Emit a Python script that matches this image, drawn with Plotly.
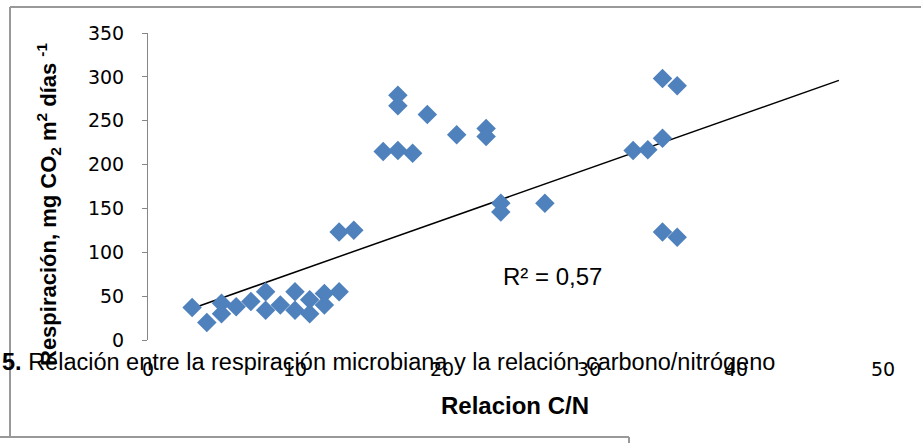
import plotly.graph_objects as go

# Data
cn_ratio = [3, 4, 5, 5, 6, 7, 8, 8, 9, 10, 10, 11, 11, 12, 12, 13, 13, 14,
            16, 17, 17, 17, 18, 19, 21, 23, 23, 24, 24, 27, 33, 34, 35, 35, 36, 35, 36]
respiration = [37, 20, 42, 30, 38, 44, 55, 34, 40, 55, 34, 46, 30, 53, 40, 55, 123, 125,
               215, 216, 279, 267, 213, 257, 234, 241, 232, 156, 146, 156, 216, 217, 230, 298, 290, 123, 117]
trend_x = [3, 47]
trend_y = [36, 296]
r2_label = "R² = 0,57"
x_ticks = [0, 10, 20, 30, 40, 50]
y_ticks = [0, 50, 100, 150, 200, 250, 300, 350]

W, H = 921, 443
L, R, T, B = 148, 38, 33, 103
pw, ph = W - L - R, H - T - B

def px(xp):
    return (xp - L) / pw

def py(yp):
    return (H - B - yp) / ph

fig = go.Figure()
fig.add_trace(go.Scatter(x=trend_x, y=trend_y, mode="lines",
                         line=dict(color="black", width=1.5), showlegend=False, hoverinfo="skip"))
fig.add_trace(go.Scatter(x=cn_ratio, y=respiration, mode="markers",
                         marker=dict(symbol="diamond", size=15, color="#4F81BD",
                                     line=dict(width=0)),
                         showlegend=False))

fig.update_layout(
    width=W, height=H,
    margin=dict(l=L, r=R, t=T, b=B),
    paper_bgcolor="white", plot_bgcolor="white",
    font=dict(family="DejaVu Sans", size=19, color="black"),
    xaxis=dict(range=[0, 50], tickvals=x_ticks, showgrid=False, zeroline=False,
               showline=False, ticks="", ticklabelstandoff=16,
               tickfont=dict(family="DejaVu Sans", size=19)),
    yaxis=dict(range=[0, 350], tickvals=y_ticks, showgrid=False, zeroline=False,
               showline=True, linecolor="#868686", linewidth=1,
               ticks="outside", ticklen=5, tickcolor="#868686",
               ticklabelstandoff=14,
               tickfont=dict(family="DejaVu Sans", size=19)),
)

# frame lines
frame = "#999999"
frame_lines = [
    (10, W + 5, 7, 7),
    (10, 10, 7, 437),
    (-5, 629, 437, 437),
    (629, 629, 437, 446),
]
for x0, x1, y0, y1 in frame_lines:
    fig.add_shape(type="line", xref="paper", yref="paper",
                  x0=px(x0), x1=px(x1), y0=py(y0), y1=py(y1),
                  line=dict(color=frame, width=2), layer="above")

# y axis title
fig.add_annotation(xref="paper", yref="paper", x=px(48), y=py(204), textangle=-90,
                   text="<b>Respiración, mg CO<sub>2</sub> m<sup>2</sup> días <sup>-1</sup></b>",
                   showarrow=False, font=dict(family="Liberation Sans", size=22, color="black"),
                   xanchor="center", yanchor="middle")
# x axis title
fig.add_annotation(xref="paper", yref="paper", x=px(515), y=py(405),
                   text="<b>Relacion C/N</b>", showarrow=False,
                   font=dict(family="Liberation Sans", size=24, color="black"),
                   xanchor="center", yanchor="middle")
# caption
fig.add_annotation(xref="paper", yref="paper", x=px(0), y=py(362),
                   text="<b>5.</b> Relación entre la respiración microbiana y la relación carbono/nitrógeno",
                   showarrow=False, font=dict(family="Liberation Sans", size=23.5, color="black"),
                   xanchor="left", yanchor="middle")
# R2 label
fig.add_annotation(xref="x", yref="y", x=27.55, y=72, text=r2_label, showarrow=False,
                   font=dict(family="Liberation Sans", size=24, color="black"),
                   xanchor="center", yanchor="middle")

fig.write_html("out.html", config={"displayModeBar": False},
               post_script="document.body.style.margin='0';")
